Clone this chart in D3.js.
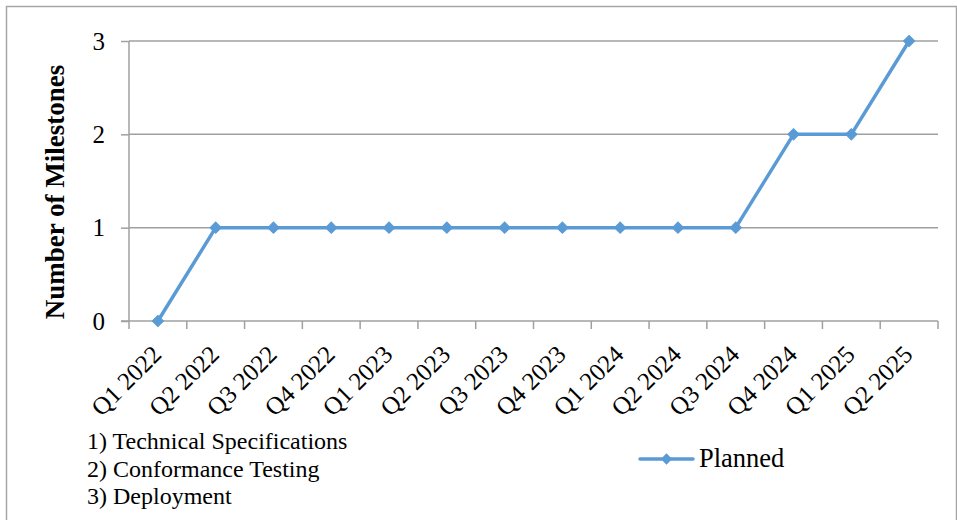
<!DOCTYPE html>
<html><head><meta charset="utf-8">
<script src="https://cdn.jsdelivr.net/npm/d3@7"></script>
<style>body{margin:0;background:#fff}svg{display:block}</style>
</head><body>
<script>
const categories = ["Q1 2022","Q2 2022","Q3 2022","Q4 2022","Q1 2023","Q2 2023","Q3 2023","Q4 2023","Q1 2024","Q2 2024","Q3 2024","Q4 2024","Q1 2025","Q2 2025"];
const planned = [0,1,1,1,1,1,1,1,1,1,1,2,2,3];
const yTicks = [0,1,2,3];
const notes = ["1) Technical Specifications","2) Conformance Testing","3) Deployment"];
const seriesName = "Planned";

const W = 957, H = 520;
const font = "'Liberation Serif','Times New Roman',serif";
const svg = d3.select("body").append("svg").attr("width", W).attr("height", H);

svg.append("rect").attr("x",6.5).attr("y",6.5).attr("width",W-7).attr("height",H).attr("fill","none").attr("stroke","#a6a6a6").attr("stroke-width",1.5);

const L = 129, R = 938, T = 41, B = 321;
const x = d3.scaleBand().domain(categories).range([L, R]);
const y = d3.scaleLinear().domain([0, 3]).range([B, T]);

// gridlines
svg.append("g").selectAll("line").data(yTicks.filter(d => d > 0)).join("line")
  .attr("x1", L).attr("x2", R).attr("y1", d => y(d)).attr("y2", d => y(d))
  .attr("stroke", "#a0a0a0").attr("stroke-width", 1.5);

// y axis
const ya = svg.append("g").attr("transform", `translate(${L},0)`)
  .call(d3.axisLeft(y).tickValues(yTicks).tickSize(8).tickPadding(16).tickFormat(d3.format("d")));
ya.select(".domain").attr("stroke", "#a0a0a0").attr("stroke-width", 1.5).attr("d", `M0,${T}V${B}`);
ya.selectAll(".tick line").attr("stroke", "#a0a0a0").attr("stroke-width", 1.5);
ya.selectAll(".tick text").attr("font-family", font).attr("font-size", 25).attr("fill", "#000").attr("dy", "0.33em");

// x axis
const xa = svg.append("g").attr("transform", `translate(0,${B})`);
xa.append("line").attr("x1", L - 8).attr("x2", R).attr("y1", 0).attr("y2", 0).attr("stroke", "#a0a0a0").attr("stroke-width", 1.5);
const bounds = categories.map(c => x(c)).concat([R]);
xa.selectAll("line.tk").data(bounds).join("line").attr("class","tk")
  .attr("x1", d => d).attr("x2", d => d).attr("y1", 0).attr("y2", 8)
  .attr("stroke", "#a0a0a0").attr("stroke-width", 1.5);
xa.selectAll("text").data(categories).join("text")
  .attr("transform", d => `translate(${x(d) + x.bandwidth()/2 + 5},${35}) rotate(-45)`)
  .attr("text-anchor", "end")
  .attr("font-family", font).attr("font-size", 25).attr("fill", "#000")
  .text(d => d);

// y title
svg.append("text").attr("transform", `translate(64,${192}) rotate(-90)`)
  .attr("text-anchor", "middle").attr("font-family", font).attr("font-size", 27).attr("font-weight", "bold")
  .text("Number of Milestones");

// line
const cx = d => x(d) + x.bandwidth()/2;
svg.append("path").datum(planned.map((v,i)=>[categories[i], v]))
  .attr("fill","none").attr("stroke","#5b9bd5").attr("stroke-width",3.5).attr("stroke-linejoin","round")
  .attr("d", d3.line().x(d => cx(d[0])).y(d => y(d[1])));
svg.append("g").selectAll("path").data(planned.map((v,i)=>[categories[i], v])).join("path")
  .attr("transform", d => `translate(${cx(d[0])},${y(d[1])}) rotate(45)`)
  .attr("d", d3.symbol().type(d3.symbolSquare).size(64))
  .attr("fill","#5b9bd5").attr("stroke","#5b9bd5").attr("stroke-width",1);

// notes
svg.append("g").selectAll("text").data(notes).join("text")
  .attr("x", 87).attr("y", (d,i) => 449 + i*27.5)
  .attr("font-family", font).attr("font-size", 24).attr("fill","#000")
  .text(d => d);

// legend
const lg = svg.append("g").attr("transform","translate(640,459)");
lg.append("line").attr("x1",0).attr("x2",53).attr("stroke","#5b9bd5").attr("stroke-width",3.5).attr("stroke-linecap","round");
lg.append("path").attr("transform","translate(26.5,0) rotate(45)").attr("d", d3.symbol().type(d3.symbolSquare).size(64)).attr("fill","#5b9bd5");
lg.append("text").attr("x",59).attr("y",8).attr("font-family",font).attr("font-size",26.5).text(seriesName);
</script>
</body></html>
